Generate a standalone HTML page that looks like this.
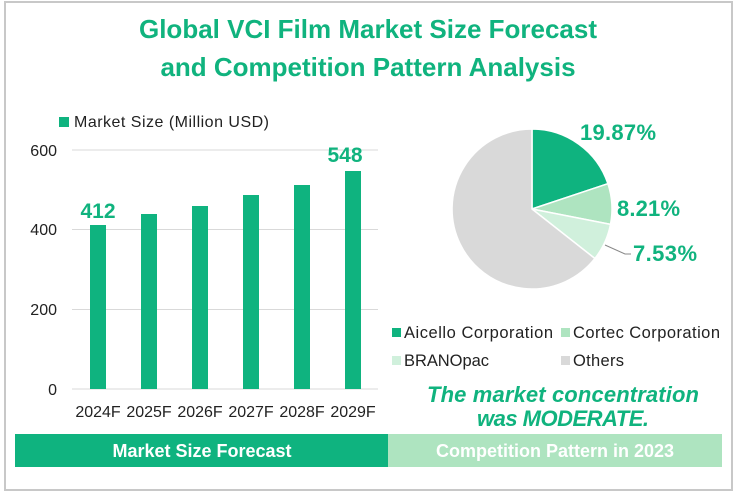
<!DOCTYPE html>
<html><head><meta charset="utf-8"><style>
body{margin:0;width:736px;height:495px;background:#fff;font-family:"Liberation Sans",sans-serif;overflow:hidden}
</style></head><body>
<svg width="736" height="495" viewBox="0 0 736 495" xmlns="http://www.w3.org/2000/svg" font-family="Liberation Sans, sans-serif">
<rect x="5" y="2" width="727" height="488" fill="#fff" stroke="#c8c8c8" stroke-width="2"/>
<text x="368" y="38" text-anchor="middle" font-size="26" font-weight="bold" fill="#10b37e">Global VCI Film Market Size Forecast</text>
<text x="368" y="76" text-anchor="middle" font-size="26" font-weight="bold" fill="#10b37e">and Competition Pattern Analysis</text>
<rect x="59" y="117" width="10" height="10" fill="#0fb37f"/>
<text x="74" y="127" font-size="16" fill="#222" textLength="195">Market Size (Million USD)</text>
<g stroke="#d9d9d9" stroke-width="1">
<line x1="72" y1="150" x2="378" y2="150"/><line x1="72" y1="229.5" x2="378" y2="229.5"/><line x1="72" y1="309.5" x2="378" y2="309.5"/><line x1="72" y1="389" x2="378" y2="389"/></g>
<g font-size="16" fill="#222" text-anchor="end">
<text x="57" y="156">600</text><text x="57" y="235">400</text><text x="57" y="315">200</text><text x="57" y="395">0</text></g>
<g fill="#0fb37f">
<rect x="90" y="225" width="16" height="164"/>
<rect x="141" y="214" width="16" height="175"/>
<rect x="192" y="206" width="16" height="183"/>
<rect x="243" y="195" width="16" height="194"/>
<rect x="294" y="185" width="16" height="204"/>
<rect x="345" y="171" width="16" height="218"/></g>
<text x="98" y="218" text-anchor="middle" font-size="21" font-weight="bold" fill="#10b37e">412</text>
<text x="345" y="162" text-anchor="middle" font-size="21" font-weight="bold" fill="#10b37e">548</text>
<g font-size="16" fill="#222" text-anchor="middle">
<text x="98" y="417">2024F</text><text x="149" y="417">2025F</text><text x="200" y="417">2026F</text><text x="251" y="417">2027F</text><text x="302" y="417">2028F</text><text x="353" y="417">2029F</text></g>
<rect x="15" y="434" width="373" height="33" fill="#0fb37f"/>
<rect x="388" y="434" width="334" height="33" fill="#aee4c0"/>
<text x="202" y="457" text-anchor="middle" font-size="18" font-weight="bold" fill="#fff">Market Size Forecast</text>
<text x="555" y="457" text-anchor="middle" font-size="18" font-weight="bold" fill="#fff">Competition Pattern in 2023</text>
<g stroke="#fff" stroke-width="1.5">
<path d="M532,209 L532,129 A80,80 0 0 1 607.9,183.7 Z" fill="#0fb37f"/>
<path d="M532,209 L607.9,183.7 A80,80 0 0 1 610.5,224.4 Z" fill="#aee4c0"/>
<path d="M532,209 L610.5,224.4 A80,80 0 0 1 594.9,258.5 Z" fill="#d0f0dc"/>
<path d="M532,209 L594.9,258.5 A80,80 0 1 1 532,129 Z" fill="#d9d9d9"/></g>
<polyline points="605,245 625,254 631,254" fill="none" stroke="#888" stroke-width="1"/>
<g font-size="22" font-weight="bold" fill="#10b37e">
<text x="580" y="140" textLength="76">19.87%</text><text x="617" y="216" textLength="63">8.21%</text><text x="633" y="261" textLength="64">7.53%</text></g>
<g font-size="16.5" fill="#222">
<rect x="392" y="328" width="9" height="9" fill="#0fb37f"/><text x="404" y="338" textLength="149">Aicello Corporation</text>
<rect x="561" y="328" width="9" height="9" fill="#aee4c0"/><text x="573" y="338" textLength="147">Cortec Corporation</text>
<rect x="392" y="356" width="9" height="9" fill="#d0f0dc"/><text x="404" y="366" textLength="85">BRANOpac</text>
<rect x="561" y="356" width="9" height="9" fill="#d9d9d9"/><text x="573" y="366" textLength="51">Others</text></g>
<g font-size="22" font-weight="bold" font-style="italic" fill="#10b37e" text-anchor="middle">
<text x="563" y="402" textLength="272">The market concentration</text><text x="563" y="426" textLength="172">was MODERATE.</text></g>
</svg>
</body></html>
